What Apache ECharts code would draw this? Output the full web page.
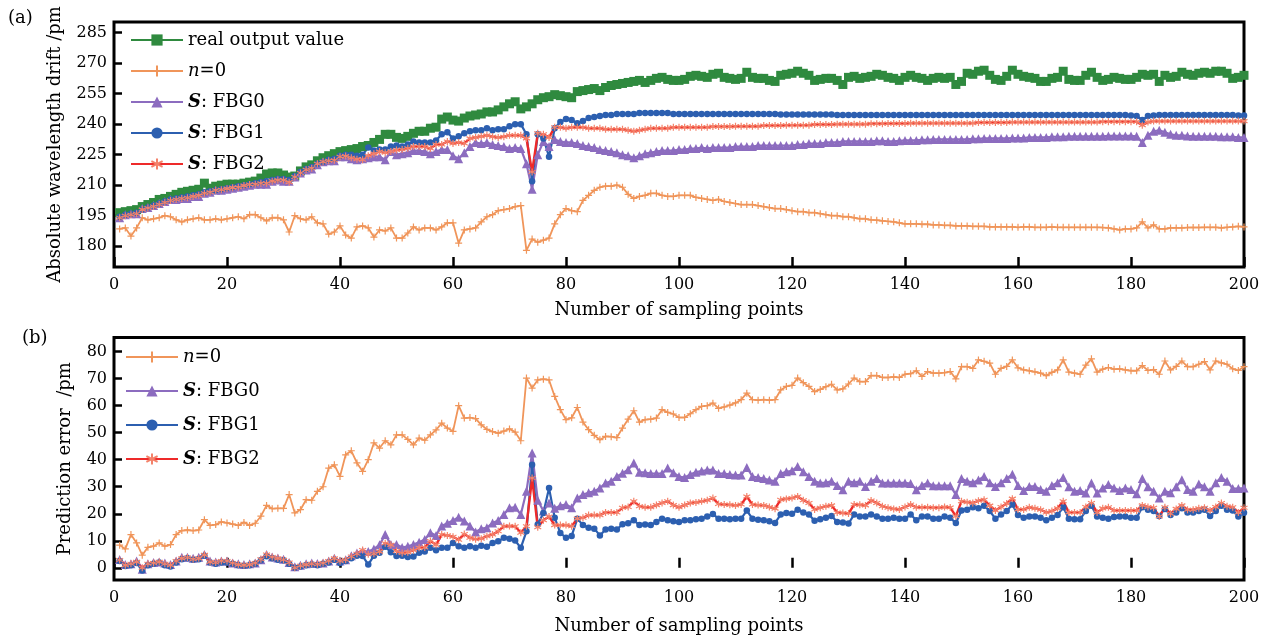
<!DOCTYPE html>
<html><head><meta charset="utf-8">
<script src="https://cdn.jsdelivr.net/npm/echarts@6/dist/echarts.min.js"></script>
<style>html,body{margin:0;padding:0;background:#fff}#c{width:1277px;height:636px}</style>
</head><body><div id="c"></div><script>
const samplePoints = Array.from({length: 200}, (_, i) => i + 1);
const xTicks = [0, 20, 40, 60, 80, 100, 120, 140, 160, 180, 200];
const yTicksA = [180, 195, 210, 225, 240, 255, 270, 285];
const yTicksB = [0, 10, 20, 30, 40, 50, 60, 70, 80];
const seriesNames = ['real output value', 'n=0', 'S: FBG0', 'S: FBG1', 'S: FBG2'];

// Panel (a): absolute wavelength drift /pm
const realOutput = [
196.5,197,197.5,198,199.5,200.5,201.5,203,203.5,204.5,
205.5,206.5,207,207.5,208,211,208.5,209.5,210,210.5,
210.5,210.5,211,211.5,212,213.5,215.5,216,216,215,
214,214.5,217,219,220,222,223.5,224.5,225.5,226.5,
227,227.5,228,229,229.5,231,232.5,235,235,233.5,
233,234,235.5,236.5,236.5,238,238.5,242.5,243.5,242,
241.5,243,244,244.5,245,246,246,247,248.5,250,
251,247.5,248.5,250,252,253,253.5,254.5,254,253.5,
253,256,256.5,257,257.5,256.5,258,259,259.5,260,
260.5,261,261.5,260.5,261.5,262.5,263,262,261.5,261.5,
262,263.5,264,263.5,263,264.5,265,263,262.5,262,
262.5,265.5,263,262.5,262.5,261.5,261,264,264.5,265,
266,265,264,261.5,262,262.5,262.5,261.5,259.5,263,
263.5,262.5,263,263.5,264.5,264,263,262.5,261.5,263,
264,263,262.5,261.5,262.5,263,262.5,263,259.5,261,
265,264.5,266,266.5,264,262,261.5,263.5,266.5,264.5,
263.5,263,262.5,261,261,262.5,263,266,262,261.5,
261.5,264,265.5,263,261.5,262,263,262.5,262,262,
263,264.5,264,264.5,261,264,263,263.5,265.5,264.5,
264,265,265.5,265,266,266,265,262.5,263,264];
const predN0 = [
188.5,189,185,189,194,193,193.5,194,195,194.5,
193,192,193,193.5,194,193,193,193.5,193,193.5,
194,194.5,193.5,195.5,195.5,194,192.5,194,194,193,
187,195,193.5,193,194.5,191.5,191,186,187,190,
185.5,184,189.5,190,189,184.5,188,187.5,189,184,
184,186.5,189.5,188,189,189,188,189.5,191.5,191.5,
181.5,188,188.5,189,192,194.5,195.5,197.5,198,198.5,
199.5,200,178,183.5,182,183,184,191,195.5,198.5,
197.5,197,202.5,205,207.5,209,209.5,209.5,210,209,
205.5,203.5,204.5,205,206,206,205,204.5,204.5,205,
205,205,204,203.5,203,202.5,203,202,201.5,201,
200.5,200.5,200.5,200,199.5,199,198.5,198.5,198,197.5,
197,197,196.5,196.5,196,195.5,195,195,194.5,194.5,
194,193.5,193.5,193,192.8,192.5,192.2,192,191.5,191,
191,191,190.8,190.8,190.5,190.5,190.3,190.3,190,190,
190,189.8,189.8,189.8,189.5,189.5,189.5,189.5,189.5,189.3,
189.5,189.5,189.3,189.3,189.3,189.5,189.3,189.3,189.3,189.3,
189.3,189.3,189.3,189.3,189.2,189,188.5,188,188.5,188.5,
189,192,189,190.5,188.5,188.5,189,189,189,189.2,
189.2,189.2,189.3,189.3,189.3,189,189.3,189.5,189.8,189.5];
const predFBG0 = [
194,195.5,196,196,198.5,199,200,201,202,203,
203,203.5,203.5,204.5,204.5,206,206.5,207.5,207.5,208,
208.5,209,209.5,210,210.5,210.5,210.5,212,212.5,212,
212,214,216,217.5,218,220,221.5,222,222,224,
224,223,222.5,223,223.5,224,224,222.5,226.5,225,
225.5,226,227,227,226.5,225.5,226.5,227.5,227.5,224.5,
223,226,229,231,230.5,231,230,229.5,229,228,
228.5,228,220.5,208,225,231.5,229,232.5,231.5,231,
231,230.5,229.5,229,228.5,227.5,227,226.5,226,225,
224.5,223.5,224.5,225.5,226,226.5,227,227,227,227.5,
227.5,228,228,228.5,228,228.5,228.5,228.5,228.5,229,
229,229,229,229.5,229.5,229.5,229.5,229.5,229.5,229.5,
230,230,230.5,230.5,230.5,231,231,231,231.5,231.5,
231.5,231.5,231.5,231.5,231.8,231.8,231.5,231.5,231.8,232,
232,232,232.3,232.3,232.5,232.5,232.5,232.5,232.5,232.5,
232.5,232.8,232.8,233,233,233,233,233,233.2,233.2,
233.2,233.5,233.5,233.5,233.5,233.8,233.8,233.8,234,234,
234,234,234,234,234,234.2,234.2,234.2,234.2,234.2,
234,231,234.5,236.5,237,236,235,234.5,234.5,234.2,
234,234,234,234,234,233.8,233.8,233.8,233.5,233.5];
const predFBG1 = [
194.5,195.5,196,196.5,198,199,200,201,202,203,
203.5,204,204.5,205,205.5,206.5,207,207.5,208,208.5,
209,209.5,210,210.5,211,211.5,212,212.5,213,213,
212.5,214.5,216.5,218,219,220.5,221.5,222.5,223,224.5,
225,225,224.5,225,228.5,227,227.5,227.5,229,229.5,
229,230,231.5,231,231,231,232,235,236,233,
234,235.5,236.5,237,237,238,237,237.5,237.5,239,
240,240,235,212,235,233,224,238,241,242.5,
242,240.5,241.5,243,243.5,244,244.5,244.5,245,245,
245,245,245.5,245.5,245.5,245.5,245.5,245.5,245,245,
245,245,245,245,245,245,245,245,245,245,
245,245,245,245,245,245,245,244.8,244.8,244.8,
244.8,244.8,244.8,244.8,244.8,244.8,244.8,244.5,244.5,244.5,
244.5,244.5,244.5,244.5,244.5,244.5,244.5,244.5,244.5,244.5,
244.5,244.5,244.5,244.5,244.5,244.5,244.5,244.5,244.5,244.5,
244.5,244.5,244.5,244.5,244.5,244.5,244.5,244.5,244.5,244.5,
244.5,244.5,244.5,244.5,244.5,244.5,244.5,244.5,244.5,244.5,
244.5,244.5,244.5,244.5,244.5,244.5,244.5,244.5,244.5,244.3,
244,242,244,244.3,244.5,244.5,244.5,244.5,244.5,244.5,
244.5,244.5,244.5,244.5,244.5,244.5,244.5,244.5,244.3,244.3];
const predFBG2 = [
194,195,195.5,196,198,198.8,199.5,200.5,201.5,202.5,
203,203.5,203.8,204.5,205,206,206.5,207.5,207.8,208.3,
208.8,209,209.8,210.3,210.5,211,211,212,212.5,212.5,
211.5,214,216,217.6,218.3,220.5,221.5,222,222.3,224,
224.3,223.5,222.8,222.5,224.5,225.5,226.5,226,226.6,227.3,
227.5,228.2,229,229,229,228,230,230,231.5,230.5,
231,230.5,233,233.5,234,234.5,233.8,233.5,233.8,234.5,
234.5,234.5,233,216.5,235.5,235,233.5,238.5,238.5,238,
238.5,238.5,238.5,238,238,238,237.5,237.5,237.5,237.5,
237,236.5,237,237.5,238,238,238,238,238.5,238.5,
238.5,238.5,238.5,238.5,238.5,238.8,238.8,238.8,238.8,239,
239,239,239,239,239.3,239.3,239.3,239.3,239.5,239.5,
239.5,239.5,239.5,239.8,239.8,239.8,239.8,240,240,240,
240,240,240,240.2,240.2,240.2,240.3,240.3,240.3,240.3,
240.5,240.5,240.5,240.5,240.5,240.5,240.5,240.5,240.5,240.5,
240.5,240.5,240.8,240.8,240.8,240.8,240.8,240.8,241,241,
241,241,241,241,241,241,241,241,241,241,
241,241,241,241,241.2,241.2,241.2,241.2,241.2,241.2,
241.2,239.5,241,241.5,241.5,241.5,241.5,241.5,241.5,241.5,
241.5,241.5,241.5,241.5,241.5,241.5,241.5,241.5,241.5,241.5];

// Panel (b): prediction error /pm
const errN0 = [
8.4,7,12.3,9.2,4.7,7.6,8,9.2,8,8.6,
12.3,13.8,14,13.8,14,17.8,15.7,16,17,16.6,
16.2,15.7,16.8,15.7,16.5,19.1,23.1,21.9,22,22,
27.1,20.3,21.5,25.2,25,28.3,30,36.9,38.1,33.8,
41.8,43.3,38.8,35.7,40,46.2,44.3,47,45.5,49.2,
49.2,47.5,45.5,48,47.2,49.2,51,53.5,51.7,50.5,
60,55.4,55.6,55.2,52.9,51.2,50.4,49.8,50.6,51.4,
50.2,47,70.2,66.5,69.5,69.8,69.5,63.4,58.5,54.8,
55.5,59.3,53.9,51.1,49,47.4,48.6,48.5,48.2,51.7,
55,58.1,53.9,54.8,55,55.4,58.5,57.5,56.9,55.6,
55.6,57,58.5,59.7,60,60.9,59,59.5,60.2,61,
62.2,64.6,62.2,62,62.2,62,62.2,65.8,67.1,67.5,
70.2,68.5,67.1,65.2,66,67,67.9,65.8,66.2,68,
70.2,68.9,68.9,71.1,71.1,70.4,70.4,70.6,70.4,71.6,
71.8,72.9,70.8,72.6,72,72,72.2,72.6,69.9,74.4,
74.4,73.8,76.9,76.4,75.7,71.6,73.8,74.5,76.9,74,
73.2,72.9,72.5,72,71.1,72.3,73.2,76.9,72.4,72,
71.6,75,77.3,72.4,73.5,74.1,73.5,73.6,73.2,72.9,
72.9,74.8,73,73.3,71.6,76.5,73.2,74.5,76.5,74.4,
74.4,75.3,76.3,73.2,76.5,75.8,75.3,73.6,73,74.4];
const errFBG0 = [
3.1,1.2,1.5,2.5,-0.5,1.5,2,2.2,1.8,1.2,
2.5,3.9,3.9,3.5,3.9,4.9,2.5,2.2,2.5,2.5,
1.8,1.5,1.2,1.5,1.8,3,4.9,4,3.6,3.2,
2,0.4,1,1.5,1.8,1.6,1.8,2.5,3.5,2.5,
3,4.5,5.5,6.1,6,7,8.5,12.3,8.6,8.6,
7.5,8,8.6,9.5,10.5,13,12,15.5,16.5,17.5,
18.7,17.3,15.5,13.3,14.5,14.8,16.6,17.5,19.7,22.2,
22.4,19.7,28.3,42.5,25,21,24,22,23,23.4,
22.2,25.8,27.1,27.8,28.3,29.5,31.4,32,33.8,35,
36.3,38.8,35.4,35.2,34.9,34.9,34.9,36.9,35.2,33.8,
33.4,34.5,35.4,35.8,36.2,36.2,34.9,34.9,34.5,34.3,
34.3,37.1,33.8,33.4,33,32.5,32,34.9,35.5,35.9,
37.5,35.5,33.8,32,31.4,31.5,32,30.5,28.9,32,
31.5,32,30.1,32,33,31.4,31.4,31.4,31.4,31.4,
31.2,28.9,30.5,31.4,30.4,30.4,30.4,30.4,27.1,33,
32,31.5,32.5,33.8,31.5,30.1,31.5,33,34.6,30.5,
28.6,30.1,30.1,29,28.3,30.5,31.5,33.4,30,28.3,
28.6,27.7,31.4,27.7,29.5,30.8,29.5,28.6,29.5,29,
27.4,33,30,28.3,25.8,28.3,27.8,30,32.6,29,
28.3,31,30,28.3,31.5,33.4,32,29.3,29.3,29.5];
const errFBG1 = [
2.5,0.7,1,1.8,-1,1,1.5,2,1,0.5,
2,3.2,3.5,3,3.2,4.5,2,1.5,2,2,
1.5,1,0.8,1,1.5,2.8,4.3,3.5,3,2.8,
1.5,0,0.5,1,1.2,1,1.5,2,3,1.8,
2.5,3.5,4.5,4.4,1.2,4.5,5.6,7.8,5.8,4.4,
4.5,4,4.2,5.6,6,7.4,6.5,7.4,7.4,9.2,
8,7.4,8,7.4,8.2,7.8,9.2,9.8,11.1,10.8,
10.1,7.4,13.5,38.1,16,20.3,29.5,18.5,12.9,11.1,
11.8,18.2,15.8,14.8,14.5,12,14.2,14.5,14.2,16.1,
16.5,17.6,15.8,16,15.8,17,18.2,17.6,17.2,17,
17.6,17.6,18,18.2,19,19.9,18.2,18.2,18,18.2,
18.2,21.2,18.2,17.8,17.6,17.2,16.6,19.7,20.3,20,
21.5,20.5,19.7,17.4,18,18.5,19.2,17,16.8,16.4,
19.7,19,19,19.7,19,18.2,18.2,18.5,18.2,18.2,
19.7,17.6,19,19,18.2,18.2,19,18.5,16.6,21.2,
21.5,22.4,22,23,21,18.2,19.7,21,23.4,19.5,
18.5,19,19,18.5,17.6,18.5,19.5,22.4,18.2,18,
18,21,23,19,18.5,18.2,18.8,19,19,18.5,
18.5,22.4,21.5,21,19.2,21.8,19.5,20.5,22,20.5,
20.5,21,21.5,19.2,21,23,21.5,21.2,19,20.4];
const errFBG2 = [
2.9,1,1.5,2.2,0,1.5,1.8,2.2,1.5,1,
2.5,3.5,3.8,3.2,3.5,4.8,2.2,2,2.5,2.5,
1.8,1.2,1,1.2,1.8,3.2,4.9,4,3.5,3,
2,0,0.8,1.2,1.5,1.3,1.8,2.5,3.5,2.5,
3,4.2,5.2,6.6,5,5.2,6,9.1,8.5,6.2,
5.5,5.8,6.5,7.4,7.5,9.9,8.5,12.3,12,11.5,
10.4,12.5,11.1,10.6,10.8,11.7,12.3,13.5,15.4,15.5,
15.4,13,15.4,33.2,15,17.6,19,15.8,15.8,15.8,
15.4,18.2,18.5,19.5,19.5,19.5,20.5,20.5,20.5,22.2,
22.5,24.6,22.8,22.4,22.4,23.2,24,24.6,23.2,22.4,
23.2,24,24.2,24.6,25,25.8,23.6,23.4,23.3,23.1,
23.4,26.4,23.4,23.2,23.1,22.5,21.9,25.2,25.5,25.8,
26.4,25,24,21.6,22.2,22.8,23.1,20.5,20.3,20.1,
23.4,23.3,23.1,24.9,24,22.8,22.2,21.8,21.6,22.5,
23.4,22.4,22.4,22.4,22.2,22.2,22.5,22.3,19.1,24.6,
24.3,24,24.8,25.2,23,21.2,22.5,23.8,25.6,21.6,
21.6,22.4,22,21.5,20.5,21,22,24.6,20.5,20.5,
20.5,22.5,24,20.5,22,22.4,21.2,21.2,21.2,21.2,
21.2,23.1,22.5,22.2,19,22.4,20,21.8,23.1,21.5,
21.5,22,22.2,21.2,22.5,24,22.8,22.4,20.5,22.2];

const FONT = 'DejaVu Serif';
const C = {
  green: '#2f8a3f', orange: '#f0955a', purple: '#8c6cbf',
  blue: '#2c5fb0', red: '#ee2a2a', redMark: '#f4826a'
};
const PLUS = 'path://M5,0L5,10M0,5L10,5';
const STAR = 'path://M5,0L5,10M0.7,2.5L9.3,7.5M0.7,7.5L9.3,2.5';

function pairs(arr) { return samplePoints.map((x, i) => [x, arr[i]]); }
function line(name, arr, idx, color, symbol, size, lw, markColor, strokeOnly) {
  return {
    name, type: 'line', xAxisIndex: idx, yAxisIndex: idx, data: pairs(arr),
    symbol, symbolSize: size, showSymbol: true, showAllSymbol: true,
    lineStyle: {color, width: lw},
    itemStyle: strokeOnly
      ? {color: markColor, borderColor: markColor, borderWidth: 1.2}
      : {color: markColor, borderWidth: 0},
    emphasis: {disabled: true}, animation: false
  };
}

function xAxis(idx, gap) {
  return {
    gridIndex: idx, type: 'value', min: 0, max: 200, interval: 20,
    axisLine: {show: false},
    axisTick: {show: true, inside: true, length: 10, lineStyle: {color: '#000', width: 2.5}},
    axisLabel: {fontFamily: FONT, fontSize: 16, color: '#000', margin: 10, showMinLabel: true, showMaxLabel: true},
    splitLine: {show: false},
    name: 'Number of sampling points', nameLocation: 'middle', nameGap: gap,
    nameTextStyle: {fontFamily: FONT, fontSize: 18, color: '#000'}
  };
}
function yAxis(idx, min, max, ticks, name, gap) {
  return {
    gridIndex: idx, type: 'value', min, max,
    axisLine: {show: false},
    axisTick: {show: true, inside: true, length: 8, customValues: ticks, lineStyle: {color: '#000', width: 2.5}},
    axisLabel: {fontFamily: FONT, fontSize: 16, color: '#000', margin: 7, customValues: ticks},
    splitLine: {show: false},
    name, nameLocation: 'middle', nameGap: gap,
    nameTextStyle: {fontFamily: FONT, fontSize: 18, color: '#000'}
  };
}
const rich = {
  b: {fontFamily: FONT, fontSize: 18, fontWeight: 'bold', fontStyle: 'italic', color: '#000'},
  i: {fontFamily: FONT, fontSize: 18, fontStyle: 'italic', color: '#000'}
};
function fmt(name) {
  if (name === 'n=0') return '{i|n}=0';
  if (name.indexOf('S:') === 0) return '{b|S}' + name.slice(1);
  return name;
}
function legend(names, left, top, gap) {
  return {
    data: names, orient: 'vertical', left, top, itemGap: gap, padding: 0,
    itemWidth: 52, itemHeight: 14, selectedMode: false,
    textStyle: {fontFamily: FONT, fontSize: 18, color: '#000', rich},
    formatter: fmt
  };
}

const chart = echarts.init(document.getElementById('c'), null, {renderer: 'canvas'});
chart.setOption({
  backgroundColor: '#fff',
  animation: false,
  grid: [
    {left: 114, right: 33, top: 22, height: 245, show: true, borderColor: '#000', borderWidth: 3, backgroundColor: 'transparent'},
    {left: 114, right: 33, top: 337.5, height: 243, show: true, borderColor: '#000', borderWidth: 3, backgroundColor: 'transparent'}
  ],
  xAxis: [xAxis(0, 34), xAxis(1, 37)],
  yAxis: [
    yAxis(0, 169.8, 290.2, yTicksA, 'Absolute wavelength drift /pm', 50),
    yAxis(1, -4.5, 85.2, yTicksB, 'Prediction error  /pm', 40)
  ],
  legend: [
    legend(seriesNames, 130, 31, 13),
    legend(seriesNames.slice(1), 125, 348, 16)
  ],
  graphic: [
    {type: 'text', left: 8, top: 9, style: {text: '(a)', fontFamily: FONT, fontSize: 18, fill: '#000'}},
    {type: 'text', left: 22, top: 329, style: {text: '(b)', fontFamily: FONT, fontSize: 18, fill: '#000'}}
  ],
  series: [
    line('real output value', realOutput, 0, C.green, 'rect', 9, 2.2, C.green, false),
    line('n=0', predN0, 0, C.orange, PLUS, 7, 1.8, C.orange, true),
    line('S: FBG0', predFBG0, 0, C.purple, 'triangle', 9, 2.2, C.purple, false),
    line('S: FBG1', predFBG1, 0, C.blue, 'circle', 6.5, 2.2, C.blue, false),
    line('S: FBG2', predFBG2, 0, C.red, STAR, 7, 2.4, C.redMark, true),
    line('n=0', errN0, 1, C.orange, PLUS, 7, 1.8, C.orange, true),
    line('S: FBG0', errFBG0, 1, C.purple, 'triangle', 9, 2.2, C.purple, false),
    line('S: FBG1', errFBG1, 1, C.blue, 'circle', 6.5, 2.2, C.blue, false),
    line('S: FBG2', errFBG2, 1, C.red, STAR, 7, 2.4, C.redMark, true)
  ]
});
</script></body></html>
